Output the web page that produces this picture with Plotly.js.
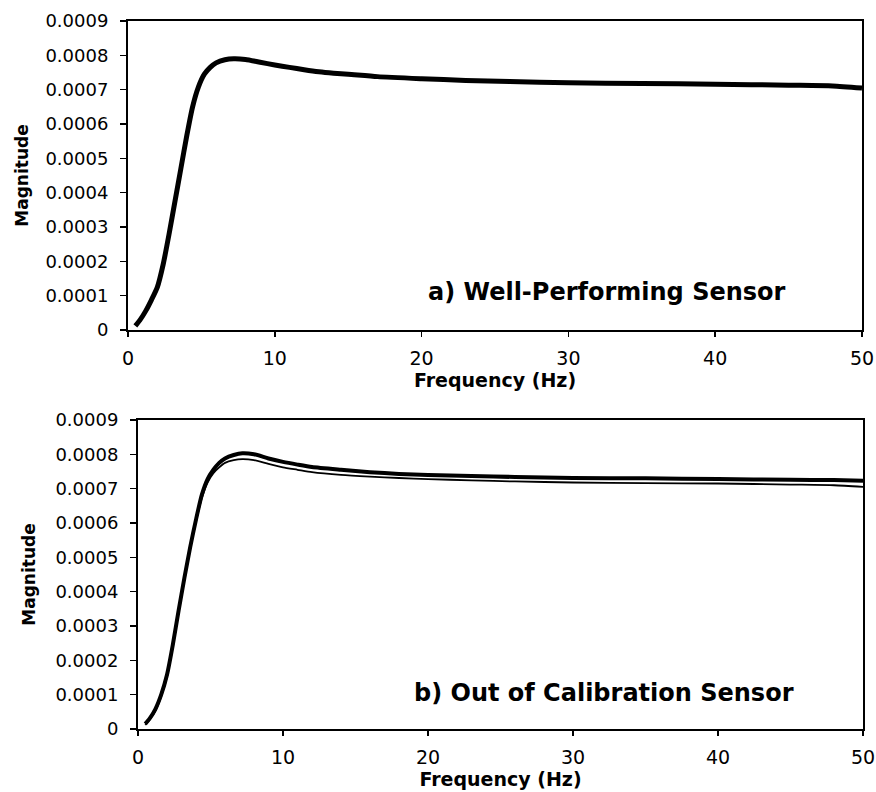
<!DOCTYPE html>
<html>
<head>
<meta charset="utf-8">
<script src="https://cdn.plot.ly/plotly-3.0.1.min.js"></script>
<style>html,body{margin:0;padding:0;background:#fff;}#chart{width:876px;height:792px;}</style>
</head>
<body>
<div id="chart"></div>
<script>
// Frequency (Hz) and magnitude samples
const freqA = [0.5, 0.8, 1.2, 1.6, 2.0, 2.4, 2.8, 3.2, 3.6, 4.0, 4.4, 4.8, 5.2, 5.6, 6.0, 6.6, 7.2, 8.0, 9.0, 10, 11, 12, 13, 14, 15, 17, 20, 23, 26, 30, 35, 40, 45, 48, 50];
const magA  = [0.000012, 0.000028, 0.000055, 0.000088, 0.000125, 0.000192, 0.00028, 0.000375, 0.00047, 0.000565, 0.00065, 0.000708, 0.000745, 0.000765, 0.000778, 0.000787, 0.00079, 0.000788, 0.00078, 0.000772, 0.000765, 0.000758, 0.000752, 0.000748, 0.000745, 0.000738, 0.000732, 0.000727, 0.000724, 0.00072, 0.000718, 0.000716, 0.000713, 0.000711, 0.000705];

const freqB = [0.5, 0.8, 1.2, 1.6, 2.0, 2.4, 2.8, 3.2, 3.6, 4.0, 4.4, 4.8, 5.2, 5.6, 6.0, 6.6, 7.2, 8.0, 9.0, 10, 11, 12, 14, 16, 18, 20, 23, 26, 30, 35, 40, 45, 48, 50];
const magBRef  = [0.000015, 0.00003, 0.000058, 0.0001, 0.000158, 0.000245, 0.000345, 0.00044, 0.00053, 0.00061, 0.000682, 0.000728, 0.000755, 0.000775, 0.000788, 0.000798, 0.000803, 0.0008, 0.000788, 0.000778, 0.00077, 0.000763, 0.000755, 0.000748, 0.000743, 0.00074, 0.000737, 0.000734, 0.000731, 0.00073, 0.000728, 0.000726, 0.000725, 0.000723];
const magBTest = [0.000012, 0.000027, 0.000053, 0.000095, 0.000152, 0.00024, 0.00034, 0.000435, 0.000525, 0.000605, 0.000672, 0.000718, 0.000745, 0.000762, 0.000775, 0.000783, 0.000786, 0.000783, 0.000772, 0.000762, 0.000755, 0.000748, 0.00074, 0.000735, 0.000731, 0.000728, 0.000724, 0.000721, 0.000718, 0.000716, 0.000715, 0.000712, 0.00071, 0.000705];

const yTickVals = [0, 0.0001, 0.0002, 0.0003, 0.0004, 0.0005, 0.0006, 0.0007, 0.0008, 0.0009];
const yTickText = ["0", "0.0001", "0.0002", "0.0003", "0.0004", "0.0005", "0.0006", "0.0007", "0.0008", "0.0009"];
const xTickVals = [0, 10, 20, 30, 40, 50];
const panelLabels = ["a) Well-Performing Sensor", "b) Out of Calibration Sensor"];

const W = 876, H = 792;
const FONT = "DejaVu Sans, Arial, sans-serif";

const traces = [
  {x: freqA, y: magA, type: 'scatter', mode: 'lines', line: {color: '#000', width: 5, shape: 'spline', smoothing: 0.6}, xaxis: 'x', yaxis: 'y', showlegend: false},
  {x: freqB, y: magBRef, type: 'scatter', mode: 'lines', line: {color: '#000', width: 4, shape: 'spline', smoothing: 0.6}, xaxis: 'x2', yaxis: 'y2', showlegend: false},
  {x: freqB, y: magBTest, type: 'scatter', mode: 'lines', line: {color: '#000', width: 1.8, shape: 'spline', smoothing: 0.6}, xaxis: 'x2', yaxis: 'y2', showlegend: false}
];

function xax(domain, anchor) {
  return {
    domain: domain, anchor: anchor, range: [0, 50], tickvals: xTickVals,
    showline: true, mirror: true, linecolor: '#000', linewidth: 2,
    ticks: 'outside', ticklen: 5, tickwidth: 1.5, tickcolor: '#000',
    showgrid: false, zeroline: false, ticklabelstandoff: 5, ticklabeloverflow: 'allow',
    tickfont: {family: FONT, size: 19, color: '#000'},
    title: {text: 'Frequency (Hz)', font: {family: FONT, size: 19, color: '#000', weight: 'bold'}, standoff: 0}
  };
}
function yax(domain, anchor, standoff) {
  return {
    domain: domain, anchor: anchor, range: [0, 0.0009], tickvals: yTickVals, ticktext: yTickText,
    showline: true, mirror: true, linecolor: '#000', linewidth: 2,
    ticks: 'outside', ticklen: 6, tickwidth: 1.5, tickcolor: '#000',
    showgrid: false, zeroline: false, ticklabelstandoff: 8,
    tickfont: {family: FONT, size: 18, color: '#000'},
    title: {text: 'Magnitude', font: {family: FONT, size: 17, color: '#000', weight: 'bold'}, standoff: standoff}
  };
}

const layout = {
  width: W, height: H,
  margin: {l: 0, r: 0, t: 0, b: 0},
  paper_bgcolor: '#fff', plot_bgcolor: '#fff',
  showlegend: false,
  xaxis: xax([128 / W, 862 / W], 'y'),
  yaxis: yax([1 - 330 / H, 1 - 21 / H], 'x', 12),
  xaxis2: xax([138 / W, 863 / W], 'y2'),
  yaxis2: yax([1 - 729 / H, 1 - 420 / H], 'x2', 15),
  annotations: [
    {text: panelLabels[0], xref: 'paper', yref: 'paper', x: 607 / W, y: 1 - 292 / H, xanchor: 'center', yanchor: 'middle', showarrow: false,
     font: {family: FONT, size: 24, color: '#000', weight: 'bold'}},
    {text: panelLabels[1], xref: 'paper', yref: 'paper', x: 604 / W, y: 1 - 693 / H, xanchor: 'center', yanchor: 'middle', showarrow: false,
     font: {family: FONT, size: 24, color: '#000', weight: 'bold'}}
  ]
};

Plotly.newPlot('chart', traces, layout, {staticPlot: true, displayModeBar: false});
</script>
</body>
</html>
